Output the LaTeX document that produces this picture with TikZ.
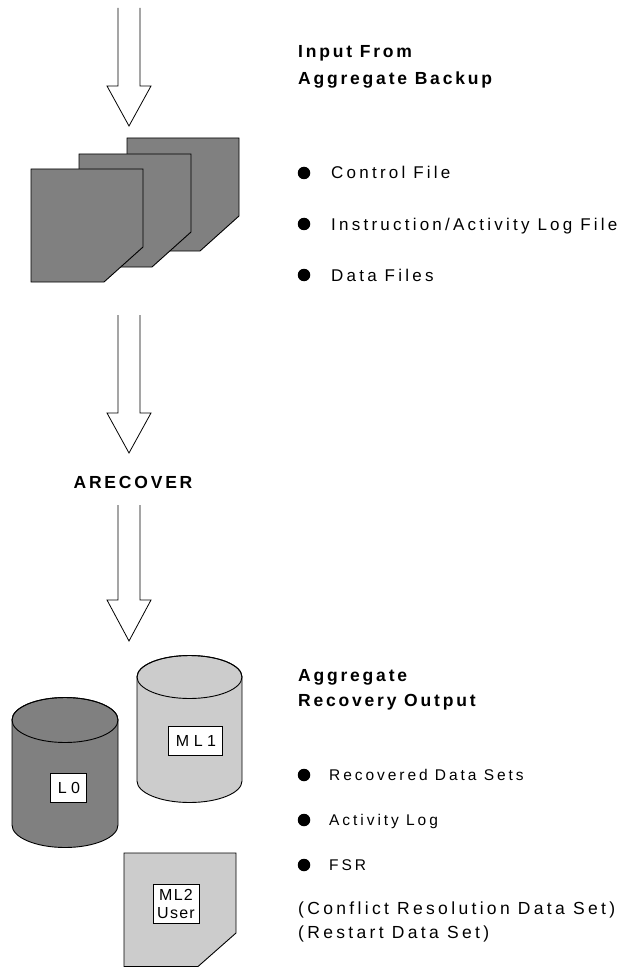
\documentclass[tikz,border=0pt]{standalone}
\usepackage{fontspec}
\setmainfont{Liberation Sans}
\newfontfamily\spreadfont[LetterSpace=19]{Liberation Sans}
\newfontfamily\spreadbold[LetterSpace=16]{Liberation Sans Bold}
\newfontfamily\labelfont[LetterSpace=28]{Liberation Sans}
\newfontfamily\tightlabelfont[LetterSpace=8]{Liberation Sans}
\definecolor{darkfill}{HTML}{808080}
\definecolor{lightfill}{HTML}{CCCCCC}
\tikzset{
  outline/.style={draw=black, line width=0.9pt, line join=miter},
  blockarrow/.style={draw=black, line width=0.8pt, fill=white},
  heading/.style={anchor=base west, inner sep=0pt, font=\fontsize{17.5}{21}\spreadbold},
  itemtext/.style={anchor=base west, inner sep=0pt, font=\fontsize{17}{20}\spreadfont},
  smallitem/.style={anchor=base west, inner sep=0pt, font=\fontsize{15.5}{18}\spreadfont},
  notetext/.style={anchor=base west, inner sep=0pt, font=\fontsize{17.5}{20}\spreadfont},
  dot/.style={circle, fill=black, inner sep=0pt, minimum size=12.5pt},
  tag/.style={draw=black, line width=0.8pt, fill=white, inner sep=0pt, align=center, font=\fontsize{16}{18}\labelfont},
  tighttag/.style={tag, font=\fontsize{16}{18}\tightlabelfont}
}
\begin{document}
\begin{tikzpicture}[x=1pt, y=-1pt]
\useasboundingbox (0,0) rectangle (629,968);

% arrow 1
\coordinate (a1t) at (129,126);
\draw[blockarrow] (118,8) -- (118,86) -- (107,86) -- (a1t) -- (151,86) -- (140,86) -- (140,8);

% stacked documents
\draw[outline, fill=darkfill] (127,138) -- (239,138) -- (239,216) -- (200,251) -- (127,251) -- cycle;
\draw[outline, fill=darkfill] (79,154) -- (191,154) -- (191,232) -- (152,267) -- (79,267) -- cycle;
\draw[outline, fill=darkfill] (31,169) -- (143,169) -- (143,247) -- (104,282) -- (31,282) -- cycle;

% arrow 2
\coordinate (a2t) at (129,453);
\draw[blockarrow] (118,315) -- (118,413) -- (107,413) -- (a2t) -- (151,413) -- (140,413) -- (140,315);

\node[anchor=base, inner sep=0pt, font=\fontsize{17.5}{21}\spreadbold] (arecover) at (133,488) {ARECOVER};

% arrow 3
\coordinate (a3t) at (129,641);
\draw[blockarrow] (118,505) -- (118,600) -- (107,600) -- (a3t) -- (151,600) -- (140,600) -- (140,505);

% ML1 cylinder
\draw[outline, fill=lightfill] (137,677) -- (137,781) arc[start angle=180, end angle=360, x radius=52.5pt, y radius=21.5pt] -- (242,677) arc[start angle=0, end angle=180, x radius=52.5pt, y radius=21.5pt] -- cycle;
\draw[outline] (189.5,677) ellipse [x radius=52.5pt, y radius=21.5pt];
\node[tag, minimum width=54pt, minimum height=29pt] (ml1) at (195,740.5) {\hspace{2pt}ML1};

% L0 cylinder
\draw[outline, fill=darkfill] (12,720) -- (12,825) arc[start angle=180, end angle=360, x radius=53pt, y radius=22.5pt] -- (118,720) arc[start angle=0, end angle=180, x radius=53pt, y radius=22.5pt] -- cycle;
\draw[outline] (65,720) ellipse [x radius=53pt, y radius=22.5pt];
\node[tag, minimum width=36pt, minimum height=29pt] (l0) at (68,787.5) {\hspace{2pt}L0};

% ML2 document
\draw[outline, fill=lightfill] (124,853) -- (236,853) -- (236,933) -- (198,966.5) -- (124,966.5) -- cycle;
\node[tighttag, minimum width=46pt, minimum height=39pt] (ml2) at (176,903.5) {ML2\\User};

% top texts
\node[heading] (in1) at (298,58) {Input From};
\node[heading] (in2) at (298,85) {Aggregate Backup};
\node[dot] (b1) at (304,173) {};
\node[itemtext] (t1) at (331,179) {Control File};
\node[dot] (b2) at (304,224) {};
\node[itemtext] (t2) at (331,230) {Instruction/Activity Log File};
\node[dot] (b3) at (304,275) {};
\node[itemtext] (t3) at (331,281) {Data Files};

% bottom texts
\node[heading] (out1) at (298,681) {Aggregate};
\node[heading] (out2) at (298,706) {Recovery Output};
\node[dot] (c1) at (304,775) {};
\node[smallitem] (u1) at (329,780) {Recovered Data Sets};
\node[dot] (c2) at (304,820) {};
\node[smallitem] (u2) at (329,825) {Activity Log};
\node[dot] (c3) at (304,865) {};
\node[smallitem] (u3) at (329,870) {FSR};
\node[notetext] (n1) at (298,914) {(Conflict Resolution Data Set)};
\node[notetext] (n2) at (298,938) {(Restart Data Set)};
\end{tikzpicture}
\end{document}
